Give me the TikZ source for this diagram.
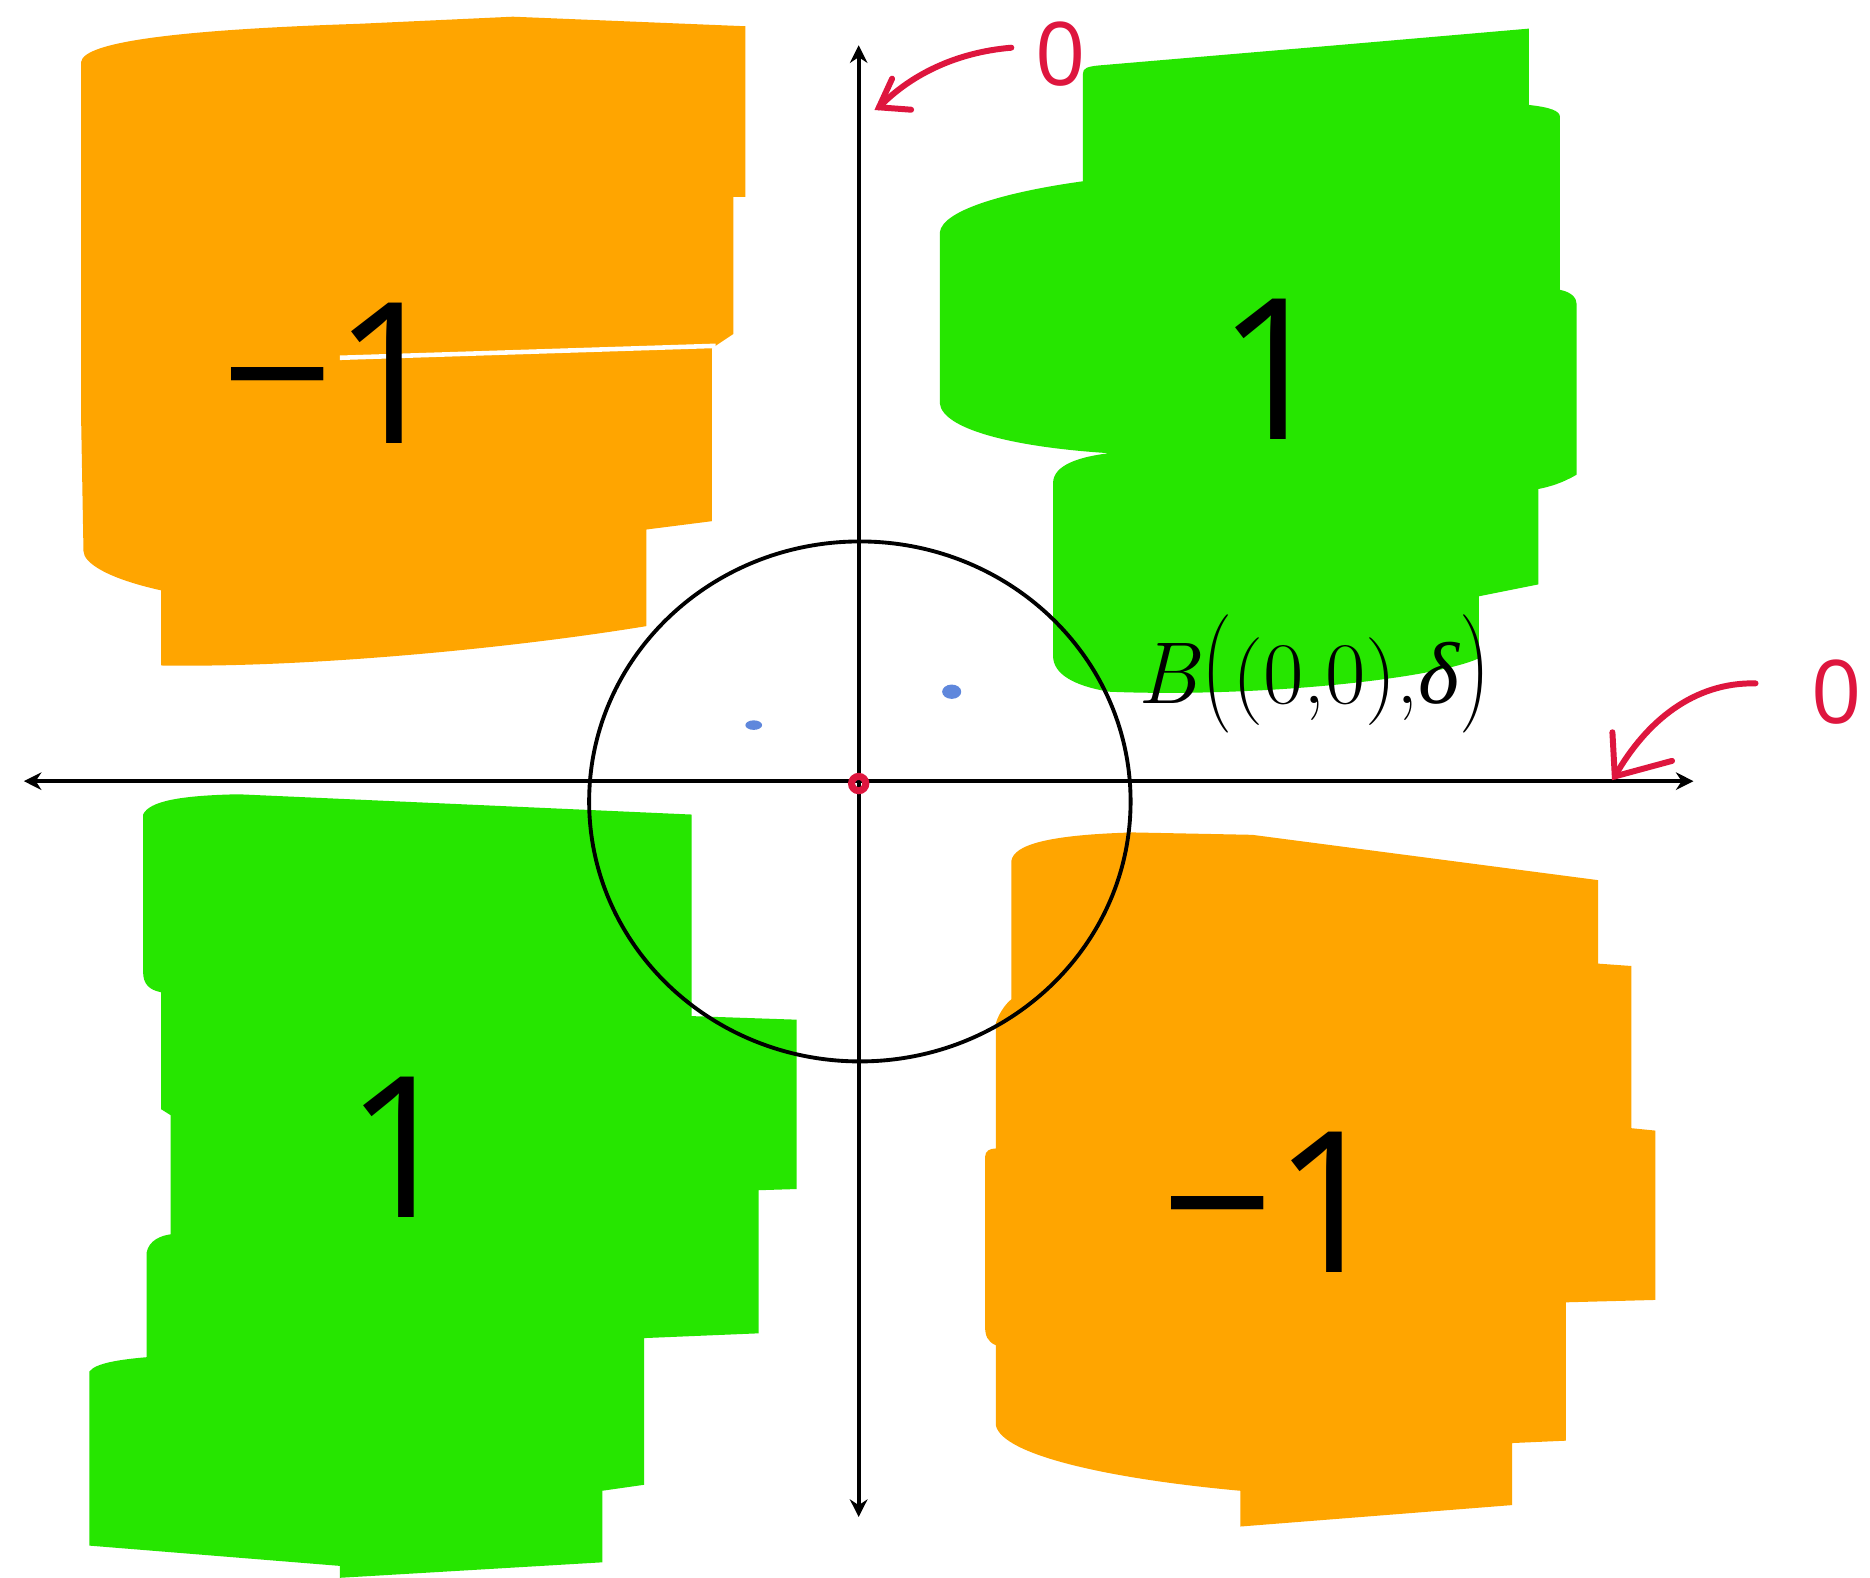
\documentclass[tikz,border=0pt]{standalone}
\usepackage{fontspec}
\newfontfamily\grk{Liberation Serif}
\newfontfamily\hand{Open Sans}
\usetikzlibrary{arrows.meta}
\definecolor{orng}{RGB}{255,165,0}
\definecolor{grn}{RGB}{38,230,0}
\definecolor{penred}{RGB}{222,22,62}
\definecolor{penblue}{RGB}{95,135,220}
\begin{document}
\begin{tikzpicture}[x=0.011926cm,y=-0.011926cm,
  axis/.style={line width=1.1pt, black, {Stealth[length=5pt,width=5pt]}-{Stealth[length=5pt,width=5pt]}},
  ring/.style={line width=1.1pt, black},
  bignum/.style={inner sep=0pt, font=\hand\fontsize{56}{56}\selectfont},
  redzero/.style={inner sep=0pt, text=penred, font=\hand\fontsize{25}{25}\selectfont},
  redarrow/.style={penred, line width=1.7pt, line cap=round}]
\useasboundingbox (0,0) rectangle (1568,1323);
\fill[white] (0,0) rectangle (1568,1323);

% orange top-left
\fill[orng] (68,52) .. controls (70,35) and (150,25) .. (300,20) -- (430,14) -- (625,22) -- (625,165) -- (615,165) -- (615,280) -- (597,292) -- (597,437) -- (542,444) -- (542,525) .. controls (420,545) and (250,560) .. (135,558) -- (135,495) .. controls (90,485) and (70,472) .. (70,462) -- (68,350) -- cycle;
\draw[white, line width=1.3pt] (285,300) -- (600,290);

% green top-right
\fill[grn] (908,62) .. controls (908,57) and (912,56) .. (920,55) -- (1120,38) -- (1282,24) -- (1282,88) .. controls (1300,90) and (1308,93) .. (1308,98) -- (1308,243) .. controls (1318,245) and (1322,250) .. (1322,255) -- (1322,398) .. controls (1310,405) and (1300,408) .. (1290,410) -- (1290,490) -- (1240,500) -- (1240,552) .. controls (1200,570) and (1050,585) .. (930,580) .. controls (900,575) and (883,565) .. (883,550) -- (883,405) .. controls (883,390) and (905,383) .. (930,380) .. controls (850,375) and (790,360) .. (788,338) -- (788,195) .. controls (790,175) and (850,160) .. (908,152) -- cycle;

% green bottom-left
\fill[grn] (120,683) .. controls (125,672) and (150,667) .. (200,666) -- (580,683) -- (580,852) -- (668,855) -- (668,997) -- (636,998) -- (636,1118) -- (540,1122) -- (540,1245) -- (505,1250) -- (505,1310) -- (285,1323) -- (285,1313) -- (75,1296) -- (75,1150) .. controls (80,1143) and (100,1140) .. (123,1138) -- (123,1050) .. controls (125,1040) and (135,1036) .. (143,1035) -- (143,935) -- (135,930) -- (135,832) .. controls (125,830) and (120,825) .. (120,815) -- cycle;

% orange bottom-right
\fill[orng] (848,722) .. controls (850,708) and (880,700) .. (950,698) -- (1050,700) -- (1340,738) -- (1340,808) -- (1368,810) -- (1368,946) -- (1388,948) -- (1388,1090) -- (1313,1092) -- (1313,1208) -- (1268,1210) -- (1268,1262) -- (1040,1280) -- (1040,1250) .. controls (930,1240) and (840,1220) .. (835,1195) -- (835,1128) .. controls (828,1125) and (826,1120) .. (826,1112) -- (826,970) .. controls (826,965) and (830,963) .. (835,963) -- (835,858) .. controls (838,848) and (845,840) .. (848,838) -- cycle;

% axes
\coordinate (ybot) at (720,1272);
\coordinate (ytop) at (720,38);
\coordinate (xleft) at (20,655);
\coordinate (xright) at (1420,655);
\draw[axis] (ybot) -- (ytop);
\draw[axis] (xleft) -- (xright);

% ball
\coordinate (ctr) at (721,672);
\draw[ring] (ctr) circle [x radius=227, y radius=218];

% origin mark
\coordinate (orig) at (720,657);
\draw[penred, line width=2pt] (orig) circle [radius=6];

% blue dots
\fill[penblue] (632,608) ellipse [x radius=7, y radius=4];
\fill[penblue] (798,580) ellipse [x radius=8, y radius=6];

% values
\node[bignum] (tl) at (280,313) {−1};
\node[bignum] (tr) at (1068,310) {1};
\node[bignum] (bl) at (337,962) {1};
\node[bignum] (br) at (1068,1008) {−1};

% ball label
\node[inner sep=0pt, font=\fontsize{25}{25}\selectfont] (lbl) at (1102,565) {\textit{B}\scalebox{1}[1.35]{(}(0,0),{\grk\itshape δ}\scalebox{1}[1.35]{)}};

% red zeros and arrows
\node[redzero] (z1) at (889,45) {0};
\node[redzero] (z2) at (1540,580) {0};
\coordinate (a1s) at (848,40);
\coordinate (a1e) at (737,90);
\coordinate (a1b) at (748,66);
\coordinate (a1c) at (764,92);
\coordinate (a2s) at (1472,573);
\coordinate (a2e) at (1354,651);
\coordinate (a2b) at (1352,614);
\coordinate (a2c) at (1402,638);
\draw[redarrow] (a1s) .. controls (800,44) and (762,64) .. (a1e);
\draw[redarrow] (a1b) -- (a1e) -- (a1c);
\draw[redarrow] (a2s) .. controls (1420,572) and (1380,605) .. (a2e);
\draw[redarrow] (a2b) -- (a2e) -- (a2c);
\end{tikzpicture}
\end{document}
